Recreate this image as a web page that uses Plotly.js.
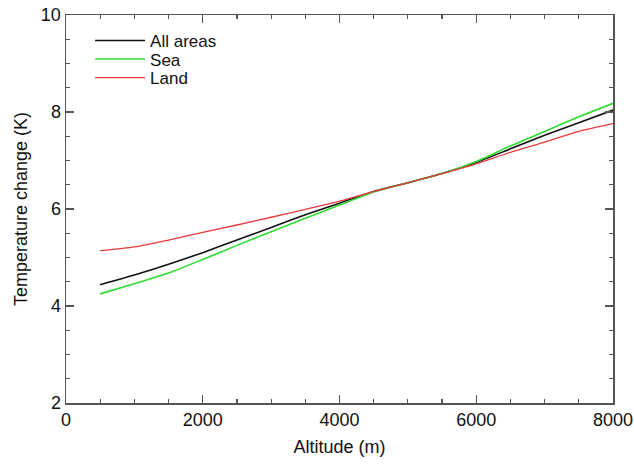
<!DOCTYPE html>
<html>
<head>
<meta charset="utf-8">
<script src="https://cdn.plot.ly/plotly-3.0.1.min.js"></script>
<style>html,body{margin:0;padding:0;background:#fff;}#chart{width:634px;height:465px;}</style>
</head>
<body>
<div id="chart"></div>
<script>
const altitude = [500,1000,1500,2000,2500,3000,3500,4000,4500,5000,5500,6000,6500,7000,7500,8000];
const allAreas = [4.44,4.64,4.86,5.10,5.36,5.62,5.88,6.12,6.36,6.54,6.73,6.96,7.24,7.52,7.78,8.04];
const sea      = [4.25,4.46,4.68,4.96,5.25,5.53,5.81,6.08,6.35,6.54,6.73,6.98,7.30,7.60,7.90,8.18];
const land     = [5.14,5.22,5.36,5.52,5.67,5.83,5.99,6.16,6.36,6.54,6.73,6.93,7.17,7.38,7.60,7.76];
const seriesNames = ['All areas','Sea','Land'];

const traces = [
  {x: altitude, y: allAreas, name: seriesNames[0], legend: 'legend', mode: 'lines', line: {color: '#111111', width: 1.6, shape: 'spline', smoothing: 0.6}},
  {x: altitude, y: sea, name: seriesNames[1], legend: 'legend2', mode: 'lines', line: {color: '#2edc2e', width: 1.6, shape: 'spline', smoothing: 0.6}},
  {x: altitude, y: land, name: seriesNames[2], legend: 'legend3', mode: 'lines', line: {color: '#e8393a', width: 1.3, shape: 'spline', smoothing: 0.6}}
];

const FONT = 'Liberation Sans, Arial, Helvetica, sans-serif';
const axisCommon = {
  showline: true, linecolor: '#555555', linewidth: 1.5, mirror: 'ticks',
  ticks: 'inside', ticklen: 8, tickwidth: 1.2, tickcolor: '#555555',
  showgrid: false, zeroline: false,
  tickfont: {family: FONT, size: 18, color: '#111'}
};

function legendAt(yPaper) {
  return {x: 0.044, y: yPaper, xanchor: 'left', yanchor: 'middle', bgcolor: 'rgba(0,0,0,0)',
          font: {family: FONT, size: 17, color: '#111'}, itemwidth: 50, borderwidth: 0};
}

const layout = {
  width: 634, height: 465,
  margin: {l: 66, r: 21, t: 15, b: 62},
  paper_bgcolor: '#fff', plot_bgcolor: '#fff',
  font: {family: FONT, size: 18, color: '#111'},
  showlegend: true,
  legend: legendAt(0.933),
  legend2: legendAt(0.8853),
  legend3: legendAt(0.8376),
  xaxis: Object.assign({}, axisCommon, {
    range: [0, 8000], tickvals: [0,2000,4000,6000,8000], ticktext: ['0','2000','4000','6000','8000'],
    minor: {dtick: 500, tick0: 0, ticks: 'inside', ticklen: 4, tickcolor: '#555555', showgrid: false},
    title: {text: 'Altitude (m)', font: {family: FONT, size: 18}, standoff: 11}
  }),
  yaxis: Object.assign({}, axisCommon, {
    range: [2, 10], tickvals: [2,4,6,8,10], ticktext: ['2','4','6','8','10'],
    minor: {dtick: 0.5, tick0: 0, ticks: 'inside', ticklen: 4, tickcolor: '#555555', showgrid: false},
    title: {text: 'Temperature change (K)', font: {family: FONT, size: 18}, standoff: 8}
  })
};

Plotly.newPlot('chart', traces, layout, {displayModeBar: false, staticPlot: true});
</script>
</body>
</html>
